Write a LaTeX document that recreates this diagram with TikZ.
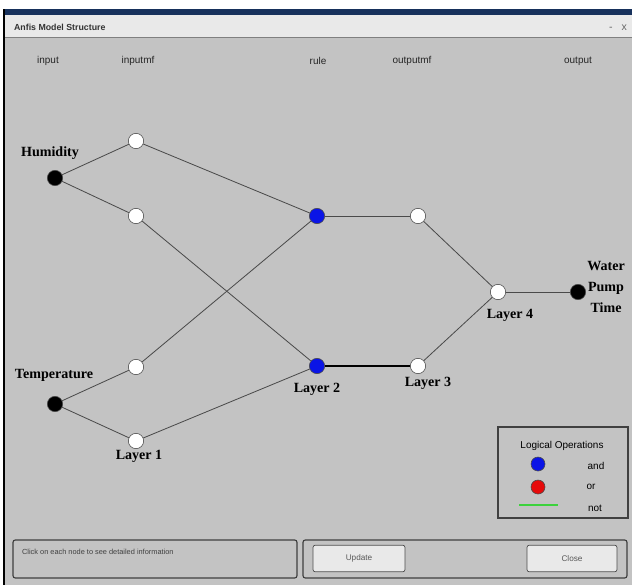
\documentclass[tikz,border=0pt]{standalone}
\usepackage{fontspec}
\setmainfont{Liberation Serif}
\setsansfont{Liberation Sans}
\usepackage{tikz}
\usetikzlibrary{positioning,calc}

\definecolor{panelgray}{HTML}{C3C3C3}
\definecolor{titlegray}{HTML}{E9E9E9}
\definecolor{edgegray}{HTML}{4A4A4A}
\definecolor{barnavy}{HTML}{17315C}
\definecolor{andblue}{HTML}{0A14E6}
\definecolor{orred}{HTML}{E60A0A}
\definecolor{notgreen}{HTML}{3CD23C}

\begin{document}
\begin{tikzpicture}[x=0.03cm, y=-0.03cm,
    neuron/.style={circle, draw=edgegray, line width=0.5pt, inner sep=0pt, minimum size=0.46cm},
    innode/.style={neuron, fill=black},
    mfnode/.style={neuron, fill=white},
    rulenode/.style={neuron, fill=andblue},
    link/.style={draw=edgegray, line width=0.7pt},
    tag/.style={font=\bfseries\fontsize{12}{14}\selectfont},
    head/.style={font=\sffamily\fontsize{8.5}{10}\selectfont, text=black!85},
    panel/.style={draw=black!75, line width=1pt, rounded corners=2pt},
    button/.style={draw=black!70, line width=0.6pt, fill=titlegray, rounded corners=2pt},
]
  \useasboundingbox (0,0) rectangle (632,585);

  % window
  \fill[panelgray] (5,37) rectangle (632,585);
  \fill[barnavy] (5,9) rectangle (632,15);
  \fill[titlegray] (5,15) rectangle (632,37);
  \draw[black!50, line width=0.8pt] (5,37) -- (632,37);
  \draw[black, line width=1.6pt] (4,9) -- (4,585);
  \node[font=\sffamily\bfseries\fontsize{7.5}{9}\selectfont, text=black!80, anchor=west] (title) at (10,27) {Anfis Model Structure};
  \node[font=\sffamily\fontsize{9}{10}\selectfont, text=black!60] (winctl) at (618,28) {-\ \ \ x};

  % column headings
  \node[head] (hin)   at (48,61)  {input};
  \node[head] (hmf)   at (138,61) {inputmf};
  \node[head] (hrule) at (318,61) {rule};
  \node[head] (homf)  at (412,61) {outputmf};
  \node[head] (hout)  at (578,61) {output};

  % network
  \node[innode] (hum)  at (55,178) {};
  \node[innode] (temp) at (55,404) {};
  \node[mfnode] (mf1) at (136,141) {};
  \node[mfnode] (mf2) at (136,216) {};
  \node[mfnode] (mf3) at (136,367) {};
  \node[mfnode] (mf4) at (136,441) {};
  \node[rulenode] (r1) at (317,216) {};
  \node[rulenode] (r2) at (317,366) {};
  \node[mfnode] (omf1) at (418,216) {};
  \node[mfnode] (omf2) at (418,366) {};
  \node[mfnode] (agg) at (498,292) {};
  \node[innode] (out) at (578,292) {};

  \draw[link] (hum) -- (mf1);
  \draw[link] (hum) -- (mf2);
  \draw[link] (temp) -- (mf3);
  \draw[link] (temp) -- (mf4);
  \draw[link] (mf1) -- (r1);
  \draw[link] (mf2) -- (r2);
  \draw[link] (mf3) -- (r1);
  \draw[link] (mf4) -- (r2);
  \draw[link] (r1) -- (omf1);
  \draw[link, draw=black, line width=1.4pt] (r2) -- (omf2);
  \draw[link] (omf1) -- (agg);
  \draw[link] (omf2) -- (agg);
  \draw[link] (agg) -- (out);

  % labels
  \node[tag] (lhum)  at (50,153)  {Humidity};
  \node[tag] (ltemp) at (54,375)  {Temperature};
  \node[tag] (lay1)  at (139,456) {Layer 1};
  \node[tag] (lay2)  at (317,389) {Layer 2};
  \node[tag] (lay3)  at (428,383) {Layer 3};
  \node[tag] (lay4)  at (510,315) {Layer 4};
  \node[tag, align=center, font=\bfseries\fontsize{12}{18}\selectfont] (lout) at (606,287) {Water\\Pump\\Time};

  % legend
  \draw[black!75, line width=0.9pt] (498,427) rectangle (628,518);
  \node[head, text=black] (legtitle) at (562,446) {Logical Operations};
  \node[rulenode, minimum size=0.42cm] (legand) at (538,464) {};
  \node[mfnode, fill=orred, minimum size=0.42cm] (legor) at (538,487) {};
  \coordinate (ga) at (519,505);
  \coordinate (gb) at (558,505);
  \draw[notgreen, line width=1.2pt] (ga) -- (gb);
  \node[head, text=black] (tand) at (596,466) {and};
  \node[head, text=black] (tor)  at (591,487) {or};
  \node[head, text=black] (tnot) at (595,508) {not};

  % bottom panels
  \draw[panel] (13,540) rectangle (297,578);
  \node[font=\sffamily\fontsize{6.3}{8}\selectfont, text=black!75, anchor=west] (hint) at (18,552) {Click on each node to see detailed information};
  \draw[panel] (303,540) rectangle (627,578);
  \node[button, minimum width=2.76cm, minimum height=0.8cm, font=\sffamily\fontsize{7}{8}\selectfont, text=black!65] (bupdate) at (359,558.5) {Update};
  \node[button, minimum width=2.7cm, minimum height=0.8cm, font=\sffamily\fontsize{7}{8}\selectfont, text=black!65] (bclose) at (572,558.5) {Close};
\end{tikzpicture}
\end{document}
